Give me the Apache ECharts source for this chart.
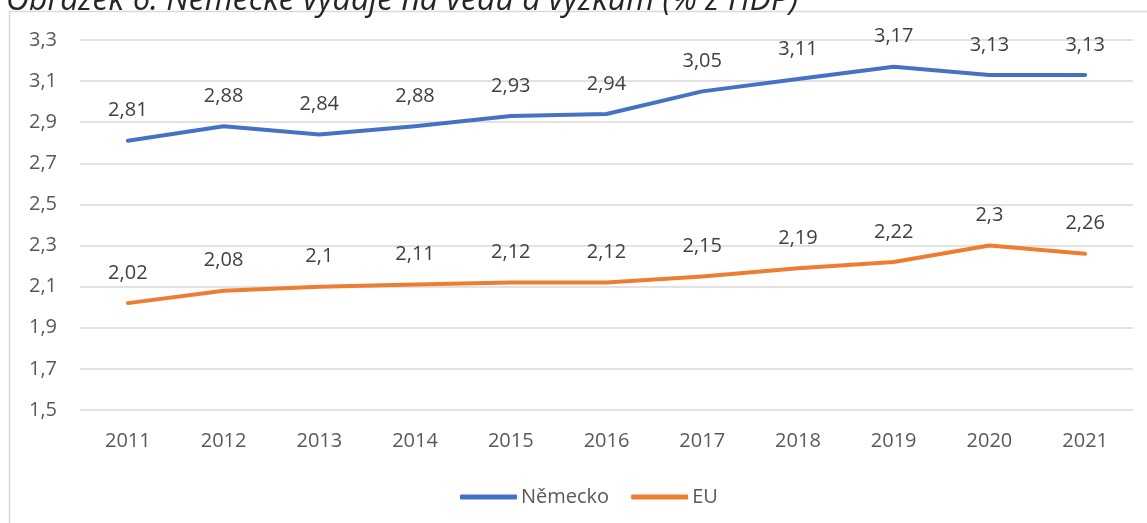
<!DOCTYPE html>
<html><head><meta charset="utf-8">
<script src="https://cdn.jsdelivr.net/npm/echarts@6/dist/echarts.min.js"></script>
<style>html,body{margin:0;padding:0;background:#fff}#c{width:1147px;height:523px}</style>
</head><body><div id="c"></div>
<script>
const titleText = 'Obrázek 6: Německé výdaje na vědu a výzkum (% z HDP)';
const years = ['2011','2012','2013','2014','2015','2016','2017','2018','2019','2020','2021'];
const nemecko = [2.81,2.88,2.84,2.88,2.93,2.94,3.05,3.11,3.17,3.13,3.13];
const eu = [2.02,2.08,2.10,2.11,2.12,2.12,2.15,2.19,2.22,2.30,2.26];
const seriesNames = ['Německo','EU'];
const fmt = v => String(Math.round(v*100)/100).replace('.', ',');
const font = 'Open Sans';
const chart = echarts.init(document.getElementById('c'), null, {renderer:'canvas'});
const lbl = {show:true,position:'top',distance:19,fontFamily:font,fontSize:20,color:'#404040',formatter:p=>fmt(p.value)};
chart.setOption({
  animation:false,
  backgroundColor:'#fff',
  graphic:[
    {type:'rect', shape:{x:9.5,y:11.5,width:1300,height:700}, style:{fill:'none',stroke:'#d9d9d9',lineWidth:1.5}, z:-1},
    {type:'text', x:6, y:17, style:{text:titleText, fontFamily:font, fontStyle:'italic', fontSize:32, fill:'#262626', verticalAlign:'bottom'}}
  ],
  grid:{left:80,right:14,top:40,bottom:113},
  legend:{top:482,left:455,icon:'roundRect',itemWidth:57,itemHeight:5,itemGap:22,
    textStyle:{fontFamily:font,fontSize:20,color:'#595959',padding:[0,0,0,-1]},
    data:seriesNames},
  xAxis:{type:'category',data:years,boundaryGap:true,
    axisLine:{show:false},axisTick:{show:false},
    axisLabel:{fontFamily:font,fontSize:20,color:'#595959',margin:21}},
  yAxis:{type:'value',min:1.5,max:3.3,interval:0.2,
    axisLine:{show:false},axisTick:{show:false},
    splitLine:{lineStyle:{color:'#d9d9d9',width:1.5}},
    axisLabel:{fontFamily:font,fontSize:20,color:'#595959',margin:23,formatter:v=>v.toFixed(1).replace('.',',')}},
  series:[
    {name:seriesNames[0],type:'line',data:nemecko,symbol:'circle',symbolSize:2,showSymbol:true,color:'#4472C4',
      itemStyle:{color:'#4472C4'},
      lineStyle:{width:4,color:'#4472C4',cap:'round',join:'round'},
      label:lbl},
    {name:seriesNames[1],type:'line',data:eu,symbol:'circle',symbolSize:2,showSymbol:true,color:'#ED7D31',
      itemStyle:{color:'#ED7D31'},
      lineStyle:{width:4,color:'#ED7D31',cap:'round',join:'round'},
      label:lbl}
  ]
});
</script></body></html>
